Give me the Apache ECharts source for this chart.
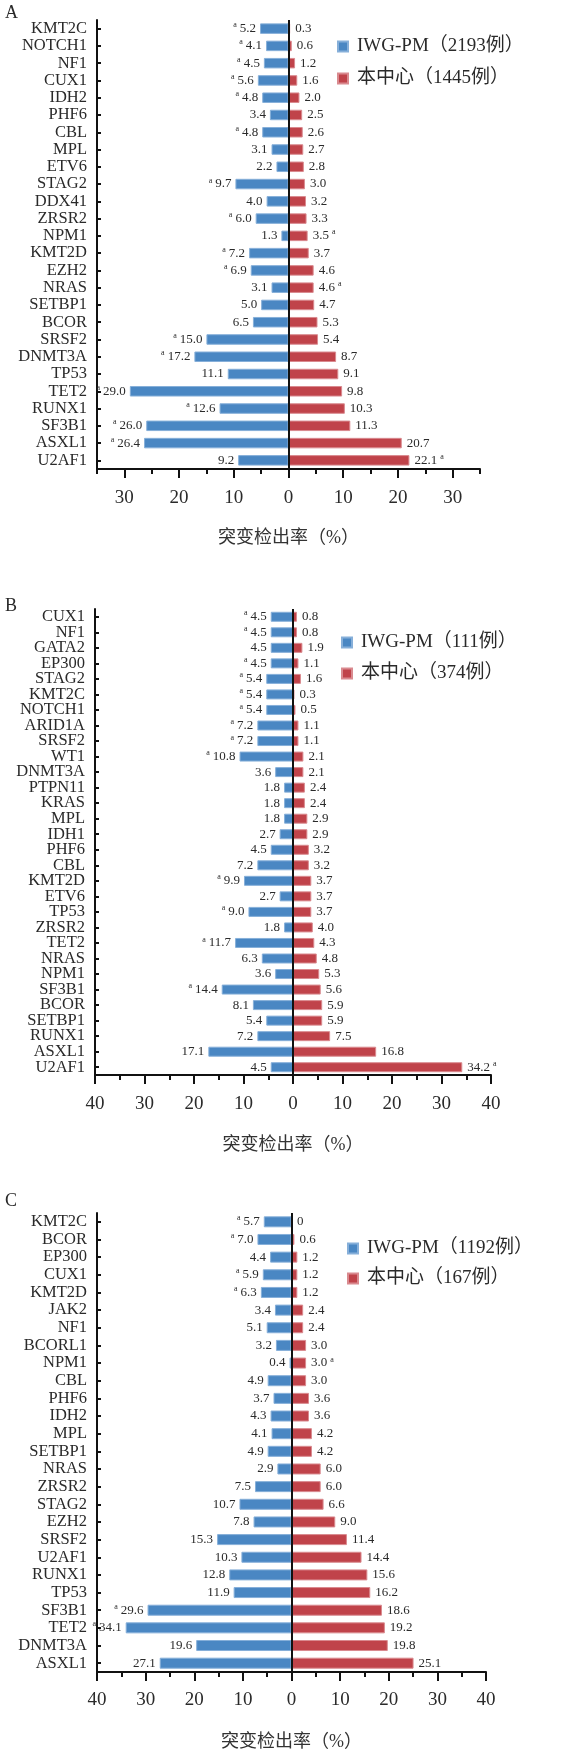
<!DOCTYPE html>
<html><head><meta charset="utf-8">
<script src="https://cdn.jsdelivr.net/npm/echarts@6/dist/echarts.min.js"></script>
<style>html,body{margin:0;padding:0;background:#fff}#c{width:583px;height:1756px}</style>
</head><body><div id="c"></div>
<script>
// ---------- Panel A ----------
const catsA = ['KMT2C','NOTCH1','NF1','CUX1','IDH2','PHF6','CBL','MPL','ETV6','STAG2','DDX41','ZRSR2','NPM1','KMT2D','EZH2','NRAS','SETBP1','BCOR','SRSF2','DNMT3A','TP53','TET2','RUNX1','SF3B1','ASXL1','U2AF1'];
const iwgA = [5.2,4.1,4.5,5.6,4.8,3.4,4.8,3.1,2.2,9.7,4.0,6.0,1.3,7.2,6.9,3.1,5.0,6.5,15.0,17.2,11.1,29.0,12.6,26.0,26.4,9.2];
const iwgSigA = [1,1,1,1,1,0,1,0,0,1,0,1,0,1,1,0,0,0,1,1,0,1,1,1,1,0];
const cenA = [0.3,0.6,1.2,1.6,2.0,2.5,2.6,2.7,2.8,3.0,3.2,3.3,3.5,3.7,4.6,4.6,4.7,5.3,5.4,8.7,9.1,9.8,10.3,11.3,20.7,22.1];
const cenSigA = [0,0,0,0,0,0,0,0,0,0,0,0,1,0,0,1,0,0,0,0,0,0,0,0,0,1];
const legendA = ['IWG-PM（2193例）','本中心（1445例）'];
const ticksA = [-30,-20,-10,0,10,20,30];

// ---------- Panel B ----------
const catsB = ['CUX1','NF1','GATA2','EP300','STAG2','KMT2C','NOTCH1','ARID1A','SRSF2','WT1','DNMT3A','PTPN11','KRAS','MPL','IDH1','PHF6','CBL','KMT2D','ETV6','TP53','ZRSR2','TET2','NRAS','NPM1','SF3B1','BCOR','SETBP1','RUNX1','ASXL1','U2AF1'];
const iwgB = [4.5,4.5,4.5,4.5,5.4,5.4,5.4,7.2,7.2,10.8,3.6,1.8,1.8,1.8,2.7,4.5,7.2,9.9,2.7,9.0,1.8,11.7,6.3,3.6,14.4,8.1,5.4,7.2,17.1,4.5];
const iwgSigB = [1,1,0,1,1,1,1,1,1,1,0,0,0,0,0,0,0,1,0,1,0,1,0,0,1,0,0,0,0,0];
const cenB = [0.8,0.8,1.9,1.1,1.6,0.3,0.5,1.1,1.1,2.1,2.1,2.4,2.4,2.9,2.9,3.2,3.2,3.7,3.7,3.7,4.0,4.3,4.8,5.3,5.6,5.9,5.9,7.5,16.8,34.2];
const cenSigB = [0,0,0,0,0,0,0,0,0,0,0,0,0,0,0,0,0,0,0,0,0,0,0,0,0,0,0,0,0,1];
const legendB = ['IWG-PM（111例）','本中心（374例）'];

// ---------- Panel C ----------
const catsC = ['KMT2C','BCOR','EP300','CUX1','KMT2D','JAK2','NF1','BCORL1','NPM1','CBL','PHF6','IDH2','MPL','SETBP1','NRAS','ZRSR2','STAG2','EZH2','SRSF2','U2AF1','RUNX1','TP53','SF3B1','TET2','DNMT3A','ASXL1'];
const iwgC = [5.7,7.0,4.4,5.9,6.3,3.4,5.1,3.2,0.4,4.9,3.7,4.3,4.1,4.9,2.9,7.5,10.7,7.8,15.3,10.3,12.8,11.9,29.6,34.1,19.6,27.1];
const iwgSigC = [1,1,0,1,1,0,0,0,0,0,0,0,0,0,0,0,0,0,0,0,0,0,1,1,0,0];
const cenC = [0,0.6,1.2,1.2,1.2,2.4,2.4,3.0,3.0,3.0,3.6,3.6,4.2,4.2,6.0,6.0,6.6,9.0,11.4,14.4,15.6,16.2,18.6,19.2,19.8,25.1];
const cenSigC = [0,0,0,0,0,0,0,0,1,0,0,0,0,0,0,0,0,0,0,0,0,0,0,0,0,0];
const legendC = ['IWG-PM（1192例）','本中心（167例）'];

const axisName = '突变检出率（%）';
const letters = ['A','B','C'];

// ---------- styling / layout ----------
const SERIF = '"Liberation Serif", "Times New Roman", serif';
const CJK = '"Liberation Serif", "Noto Sans CJK SC", serif';
const BLUE = '#4a87c3', BLUE_EDGE = '#86afd9';
const RED = '#c0434a', RED_EDGE = '#d98a8f';
const TXT = '#2a2a2a';

const panels = [
  {cats:catsA, iwg:iwgA, iwgSig:iwgSigA, cen:cenA, cenSig:cenSigA, names:legendA,
   grid:{left:97, right:103, top:20, height:449}, min:-35, max:35, interval:5, barWidth:10.5,
   legend:{left:337, top:37, itemGap:13}, letterTop:4, nameGap:60, labelMargin:20},
  {cats:catsB, iwg:iwgB, iwgSig:iwgSigB, cen:cenB, cenSig:cenSigB, names:legendB,
   grid:{left:95, right:92, top:609, height:466}, min:-40, max:40, interval:10, barWidth:10,
   legend:{left:341, top:633, itemGap:12}, letterTop:597, nameGap:61, labelMargin:20},
  {cats:catsC, iwg:iwgC, iwgSig:iwgSigC, cen:cenC, cenSig:cenSigC, names:legendC,
   grid:{left:97, right:97, top:1213, height:459}, min:-40, max:40, interval:10, barWidth:11,
   legend:{left:347, top:1239, itemGap:11}, letterTop:1192, nameGap:61, labelMargin:19}
];

function fmt(v){ return v === 0 ? '0' : v.toFixed(1); }
const richVals = {
  v:{fontSize:13, fontFamily:SERIF, color:TXT},
  s:{fontSize:8, fontFamily:SERIF, color:TXT, padding:[0,0,7,0]},
  sl:{fontSize:8, fontFamily:SERIF, color:TXT, padding:[0,3,7,0]},
  sr:{fontSize:8, fontFamily:SERIF, color:TXT, padding:[0,0,7,3]}
};

const option = {
  backgroundColor:'#fff',
  animation:false,
  title:[], grid:[], xAxis:[], yAxis:[], legend:[], series:[]
};

panels.forEach((p, i) => {
  option.title.push({text:letters[i], left:5, top:p.letterTop, padding:0,
    textStyle:{fontFamily:SERIF, fontSize:18, fontWeight:'normal', color:TXT}});
  option.grid.push(Object.assign({containLabel:false}, p.grid));

  const isA = p.interval === 5;
  option.xAxis.push({
    type:'value', gridIndex:i, min:p.min, max:p.max, interval:p.interval,
    position:'bottom',
    name:axisName, nameLocation:'middle', nameGap:p.nameGap,
    nameTextStyle:{fontFamily:CJK, fontSize:18, color:'#333'},
    axisLine:{show:true, lineStyle:{color:'#111', width:2}},
    axisTick:{show:true, length:isA ? 5 : 9, lineStyle:{color:'#111', width:2}},
    minorTick:{show:!isA, splitNumber:2, length:5, lineStyle:{color:'#111', width:2}},
    splitLine:{show:false},
    axisLabel:{margin:p.labelMargin, fontFamily:SERIF, fontSize:19, color:TXT,
      formatter:v => (v % 10 === 0 ? String(Math.abs(v)) : '')}
  });
  const xi = option.xAxis.length - 1;
  option.yAxis.push({
    type:'category', gridIndex:i, data:p.cats, inverse:true,
    axisLine:{show:true, onZero:false, lineStyle:{color:'#111', width:2}},
    axisTick:{show:true, inside:true, length:4, alignWithLabel:true, interval:0, lineStyle:{color:'#111', width:2}},
    axisLabel:{margin:10, interval:0, fontFamily:SERIF, fontSize:16.5, color:TXT},
    splitLine:{show:false}
  });
  option.legend.push({
    data:p.names, orient:'vertical', left:p.legend.left, top:p.legend.top,
    itemGap:p.legend.itemGap, itemWidth:10, itemHeight:10, icon:'rect', padding:0,
    textStyle:{fontFamily:CJK, fontSize:19, color:TXT, padding:[0,0,0,4]}
  });
  option.series.push({
    type:'bar', name:p.names[0], xAxisIndex:xi, yAxisIndex:i,
    data:p.iwg.map(v => -v), barWidth:p.barWidth, barGap:'-100%',
    itemStyle:{color:BLUE, borderColor:BLUE_EDGE, borderWidth:1},
    label:{show:true, position:'left', distance:4,
      formatter:q => (p.iwgSig[q.dataIndex] ? '{sl|a}' : '') + '{v|' + fmt(p.iwg[q.dataIndex]) + '}',
      rich:richVals},
    markLine:{silent:true, symbol:'none', label:{show:false},
      lineStyle:{color:'#111', width:2, type:'solid'}, data:[{xAxis:0}]}
  });
  option.series.push({
    type:'bar', name:p.names[1], xAxisIndex:xi, yAxisIndex:i,
    data:p.cen.slice(), barWidth:p.barWidth, barGap:'-100%',
    itemStyle:{color:RED, borderColor:RED_EDGE, borderWidth:1},
    label:{show:true, position:'right', distance:5,
      formatter:q => '{v|' + fmt(p.cen[q.dataIndex]) + '}' + (p.cenSig[q.dataIndex] ? '{sr|a}' : ''),
      rich:richVals}
  });
  if (isA) {
    // long major ticks at the labelled values (panel A has ticks every 5, labels every 10)
    option.xAxis.push({
      type:'value', gridIndex:i, min:p.min, max:p.max, interval:p.interval, position:'bottom',
      axisLine:{show:false}, splitLine:{show:false}, axisLabel:{show:false},
      axisTick:{show:true, length:9, customValues:ticksA, lineStyle:{color:'#111', width:2}}
    });
  }
});

const chart = echarts.init(document.getElementById('c'), null, {renderer:'canvas'});
chart.setOption(option);
</script></body></html>
